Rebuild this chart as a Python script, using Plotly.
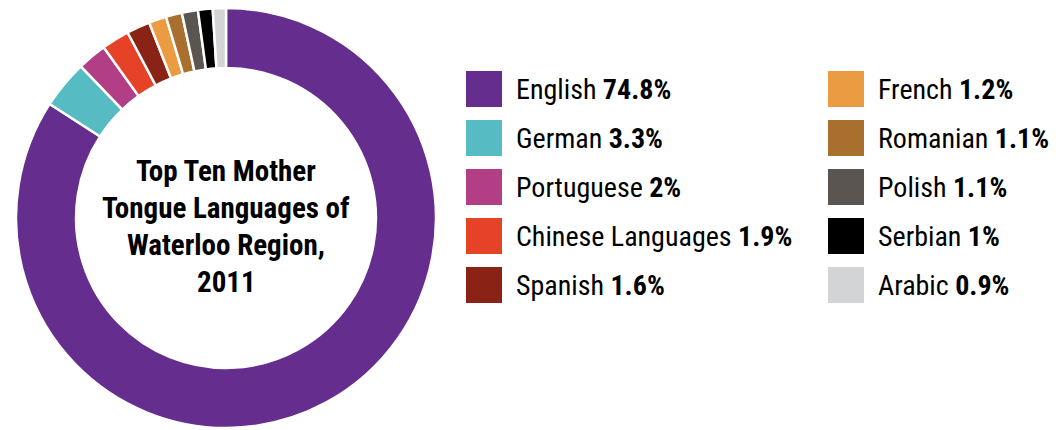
import plotly.graph_objects as go

W, H = 1064, 430

# Mother tongue shares, Waterloo Region 2011 (percent of population)
languages = ["English", "German", "Portuguese", "Chinese Languages", "Spanish",
             "French", "Romanian", "Polish", "Serbian", "Arabic"]
shares = [74.8, 3.3, 2, 1.9, 1.6, 1.2, 1.1, 1.1, 1, 0.9]
share_labels = ["74.8%", "3.3%", "2%", "1.9%", "1.6%", "1.2%", "1.1%", "1.1%", "1%", "0.9%"]
colors = ["#652D8E", "#56BBC2", "#B23F86", "#E64227", "#8A2215",
          "#EB9B42", "#A86F2F", "#5A5551", "#000000", "#D3D4D6"]
title_lines = ["Top Ten Mother", "Tongue Languages of", "Waterloo Region,", "2011"]

FONT = "Roboto Condensed, Roboto, sans-serif"


def px_x(x):
    return x / W


def px_y(y):
    return 1 - y / H


fig = go.Figure(go.Pie(
    labels=languages,
    values=shares,
    sort=False,
    direction="clockwise",
    rotation=0,
    hole=0.714,
    marker=dict(colors=colors, line=dict(color="white", width=2.5)),
    textinfo="none",
    hoverinfo="label+percent",
    domain=dict(x=[px_x(16), px_x(436)], y=[px_y(428), px_y(8)]),
    showlegend=False,
))

# Centre title, one annotation per line for tight leading
title_y = [171, 208, 245, 282]
for line, ty in zip(title_lines, title_y):
    fig.add_annotation(
        x=px_x(226), y=px_y(ty), xref="paper", yref="paper",
        xanchor="center", yanchor="middle", showarrow=False,
        text=f"<b>{line}</b>",
        font=dict(family=FONT, size=29, color="#000000"),
    )

# Two-column legend: swatch squares with name and bold share
col_sq_x = [466, 828]
col_txt_x = [514, 876]
row_y = [89, 138, 187, 236, 285]
sq = 36
for i, (name, lab, c) in enumerate(zip(languages, share_labels, colors)):
    col, row = divmod(i, 5)
    cy = row_y[row]
    x0 = col_sq_x[col]
    fig.add_shape(type="rect", xref="paper", yref="paper",
                  x0=px_x(x0), x1=px_x(x0 + sq),
                  y0=px_y(cy + sq / 2), y1=px_y(cy - sq / 2),
                  fillcolor=c, line=dict(width=0))
    fig.add_annotation(
        x=px_x(col_txt_x[col]), y=px_y(cy), xref="paper", yref="paper",
        xanchor="left", yanchor="middle", showarrow=False,
        text=f"{name} <b>{lab}</b>",
        font=dict(family=FONT, size=28, color="#000000"),
    )

fig.update_layout(
    width=W, height=H,
    margin=dict(l=0, r=0, t=0, b=0),
    paper_bgcolor="white", plot_bgcolor="white",
)
fig.write_html("out.html")
